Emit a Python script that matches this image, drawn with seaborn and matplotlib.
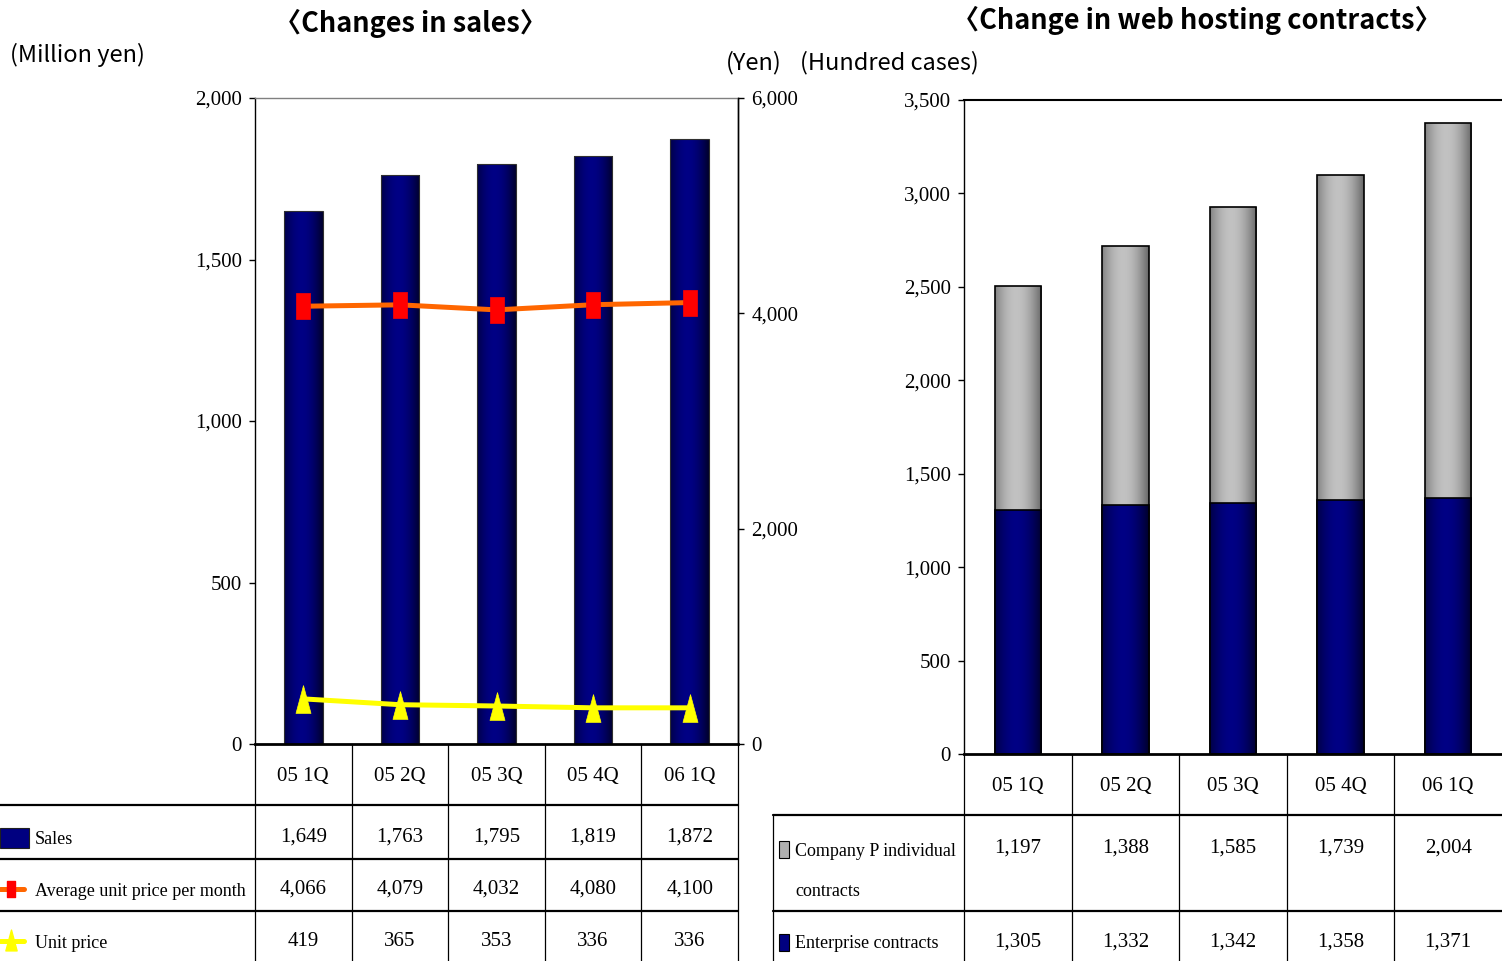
import numpy as np
import pandas as pd
import matplotlib
matplotlib.use("Agg")
import matplotlib.pyplot as plt
import seaborn as sns
from matplotlib.lines import Line2D
from matplotlib.patches import Rectangle
from matplotlib.path import Path
from matplotlib import transforms
from matplotlib.ticker import FuncFormatter

# ---------------- data ----------------
quarters = ["05 1Q", "05 2Q", "05 3Q", "05 4Q", "06 1Q"]
sales = [1649, 1763, 1795, 1819, 1872]
avg_unit_price = [4066, 4079, 4032, 4080, 4100]
unit_price = [419, 365, 353, 336, 336]
individual_contracts = [1197, 1388, 1585, 1739, 2004]
enterprise_contracts = [1305, 1332, 1342, 1358, 1371]

sales_ticks = [0, 500, 1000, 1500, 2000]
yen_ticks = [0, 2000, 4000, 6000]
cases_ticks = [0, 500, 1000, 1500, 2000, 2500, 3000, 3500]

sales_title = "〈Changes in sales〉"
hosting_title = "〈Change in web hosting contracts〉"
unit_sales = "(Million yen)"
unit_yen = "(Yen)"
unit_cases = "(Hundred cases)"
left_rows = ["Sales", "Average unit price per month", "Unit price"]
right_rows = ["Company P individual", "contracts", "Enterprise contracts"]

# ---------------- style ----------------
sns.set_theme(style="white")
plt.rcParams["font.family"] = ["Liberation Serif", "DejaVu Serif"]
for k in ["text.color", "xtick.color", "ytick.color", "axes.labelcolor"]:
    plt.rcParams[k] = "black"
CJK = ["Noto Sans CJK JP", "DejaVu Sans"]

NAVY = "#000080"
GRAY = "#a0a0a0"
ORANGE = "#FF6600"
RED = "#FF0000"
YELLOW = "#FFFF00"
NUM_FS = 15
LAB_FS = 13

W, H = 1502, 961
fig = plt.figure(figsize=(W / 100, H / 100), dpi=100)


def fy(py):
    return 1 - py / H


def rect(x0, y0, x1, y1):
    return [x0 / W, 1 - y1 / H, (x1 - x0) / W, (y1 - y0) / H]


comma = FuncFormatter(lambda v, p: f"{int(round(v)):,}")

rect_marker = Path([(-0.29, -0.5), (0.29, -0.5), (0.29, 0.5), (-0.29, 0.5), (-0.29, -0.5)],
                   [Path.MOVETO, Path.LINETO, Path.LINETO, Path.LINETO, Path.CLOSEPOLY])
tri_marker = Path([(0, 0.5), (0.27, -0.5), (-0.27, -0.5), (0, 0.5)],
                  [Path.MOVETO, Path.LINETO, Path.LINETO, Path.CLOSEPOLY])


def shade(ax, patches, edge, peak, z):
    t = np.linspace(0, 1, 120)
    f = np.clip(np.cos((t - 0.45) / 0.58 * np.pi / 2), 0, 1) ** 0.9
    edge = np.array(edge)
    peak = np.array(peak)
    img = (edge + (peak - edge) * f[:, None])[None, :, :]
    for p in patches:
        x0, y0, w, h = p.get_x(), p.get_y(), p.get_width(), p.get_height()
        im = ax.imshow(img, extent=(x0, x0 + w, y0, y0 + h), aspect="auto",
                       interpolation="bilinear", zorder=z)
        im.set_clip_path(p)
        p.set_facecolor("none")
        p.set_zorder(z + 0.05)


# ---------------- left chart ----------------
ax1 = fig.add_axes(rect(255, 98, 738, 744))
df_sales = pd.DataFrame({"quarter": quarters, "sales": sales})
sns.barplot(data=df_sales, x="quarter", y="sales", ax=ax1, color=NAVY, width=0.4,
            saturation=1, edgecolor="#303030", linewidth=0.8)
shade(ax1, list(ax1.patches), (0.0, 0.0, 0.13), (0.0, 0.0, 0.52), 1.1)
ax1.set_xlim(-0.5, 4.5)
ax1.set_ylim(0, 2000)
ax1.set_yticks(sales_ticks)
ax1.yaxis.set_major_formatter(comma)
ax1.tick_params(axis="x", length=0, labelbottom=False)
ax1.tick_params(axis="y", direction="out", length=4, width=1, color="black", pad=5.5,
                labelsize=NUM_FS, left=True)
ax1.set_xlabel("")
ax1.set_ylabel("")
ax1.spines["left"].set(color="black", linewidth=1)
ax1.spines["right"].set(color="black", linewidth=1)
ax1.spines["top"].set(color="#808080", linewidth=1)
ax1.spines["bottom"].set(color="black", linewidth=2)

ax2 = ax1.twinx()
df_lines = pd.DataFrame({"quarter": quarters, "avg": avg_unit_price, "unit": unit_price})
sns.pointplot(data=df_lines, x="quarter", y="avg", ax=ax2, color=ORANGE, errorbar=None,
              marker=rect_marker, markersize=18.5, markerfacecolor=RED, markeredgecolor=RED,
              markeredgewidth=0.5, linewidth=3.6)
sns.pointplot(data=df_lines, x="quarter", y="unit", ax=ax2, color=YELLOW, errorbar=None,
              marker=tri_marker, markersize=20, markerfacecolor=YELLOW, markeredgecolor=YELLOW,
              markeredgewidth=0.5, linewidth=3.6)
ax2.set_xlim(-0.5, 4.5)
ax2.set_ylim(0, 6000)
ax2.set_yticks(yen_ticks)
ax2.yaxis.set_major_formatter(comma)
ax2.tick_params(axis="y", direction="out", length=4, width=1, color="black", pad=5.5,
                labelsize=NUM_FS, right=True)
ax2.set_xlabel("")
ax2.set_ylabel("")
for s in ["left", "top", "bottom"]:
    ax2.spines[s].set_visible(False)
ax2.spines["right"].set(color="black", linewidth=1)
ax1.set_xlim(-0.5, 4.5)

# ---------------- right chart ----------------
ax3 = fig.add_axes(rect(964, 100, 1502, 754))
df_host = pd.DataFrame({"quarter": quarters,
                        "total": np.add(enterprise_contracts, individual_contracts),
                        "enterprise": enterprise_contracts})
sns.barplot(data=df_host, x="quarter", y="total", ax=ax3, color=GRAY, width=0.43,
            saturation=1, edgecolor="black", linewidth=1.2)
n_gray = len(ax3.patches)
sns.barplot(data=df_host, x="quarter", y="enterprise", ax=ax3, color=NAVY, width=0.43,
            saturation=1, edgecolor="black", linewidth=1.2)
patches = list(ax3.patches)
shade(ax3, patches[:n_gray], (0.36, 0.36, 0.36), (0.76, 0.76, 0.76), 1.1)
shade(ax3, patches[n_gray:], (0.0, 0.0, 0.13), (0.0, 0.0, 0.52), 1.3)
ax3.set_xlim(-0.5, 4.5)
ax3.set_ylim(0, 3500)
ax3.set_yticks(cases_ticks)
ax3.yaxis.set_major_formatter(comma)
ax3.tick_params(axis="x", length=0, labelbottom=False)
ax3.tick_params(axis="y", direction="out", length=4, width=1, color="black", pad=5.5,
                labelsize=NUM_FS, left=True)
ax3.set_xlabel("")
ax3.set_ylabel("")
ax3.spines["left"].set(color="black", linewidth=1)
ax3.spines["top"].set(color="black", linewidth=1.5)
ax3.spines["bottom"].set(color="black", linewidth=2)
ax3.spines["right"].set_visible(False)

# ---------------- titles & units ----------------
fig.text(410 / W, fy(23), sales_title, ha="center", va="center", fontsize=19.5,
         fontweight="bold", family=CJK)
fig.text(1197 / W, fy(20), hosting_title, ha="center", va="center", fontsize=19.5,
         fontweight="bold", family=CJK)
fig.text(10 / W, fy(55), unit_sales, ha="left", va="center", fontsize=17, family=CJK)
fig.text(726 / W, fy(63), unit_yen, ha="left", va="center", fontsize=17, family=CJK)
fig.text(800 / W, fy(63), unit_cases, ha="left", va="center", fontsize=17, family=CJK)


# ---------------- tables ----------------
def hline(x0, x1, py, lw=1.6):
    fig.add_artist(Line2D([x0 / W, x1 / W], [fy(py), fy(py)], transform=fig.transFigure,
                          color="black", linewidth=lw))


def vline_px(px, y0, y1, lw=0.9):
    fig.add_artist(Line2D([px / W, px / W], [fy(y0), fy(y1)], transform=fig.transFigure,
                          color="black", linewidth=lw))


# left table
t1 = transforms.blended_transform_factory(ax1.transData, fig.transFigure)
for b in np.arange(-0.5, len(quarters), 1.0):
    fig.add_artist(Line2D([b, b], [fy(744), fy(961)], transform=t1, color="black", linewidth=0.9))
hline(0, 738, 805)
hline(0, 738, 859)
hline(0, 738, 911)
row_y = [837, 889, 941]
for i, q in enumerate(quarters):
    ax1.text(i, fy(776), q, transform=t1, ha="center", va="center", fontsize=NUM_FS)
    for vals, yy in zip([sales, avg_unit_price, unit_price], row_y):
        ax1.text(i, fy(yy), f"{vals[i]:,}", transform=t1, ha="center", va="center",
                 fontsize=NUM_FS)
for lab, yy in zip(left_rows, row_y):
    fig.text(35 / W, fy(yy + 2), lab, ha="left", va="center", fontsize=LAB_FS)
# legend keys
fig.add_artist(Rectangle((0, fy(848)), 29 / W, 20 / H, transform=fig.transFigure,
                         facecolor=NAVY, edgecolor="#202020", linewidth=0.8))
fig.add_artist(Line2D([0, 24 / W], [fy(889), fy(889)], transform=fig.transFigure,
                      color=ORANGE, linewidth=3.6))
fig.add_artist(Line2D([11 / W], [fy(889)], transform=fig.transFigure, marker=rect_marker,
                      markersize=11, markerfacecolor=RED, markeredgecolor=RED, linestyle=""))
fig.add_artist(Line2D([0, 24 / W], [fy(941), fy(941)], transform=fig.transFigure,
                      color=YELLOW, linewidth=3.6))
fig.add_artist(Line2D([11 / W], [fy(940)], transform=fig.transFigure, marker=tri_marker,
                      markersize=15, markerfacecolor=YELLOW, markeredgecolor=YELLOW, linestyle=""))

# right table
t3 = transforms.blended_transform_factory(ax3.transData, fig.transFigure)
for b in np.arange(-0.5, len(quarters) - 1, 1.0):
    fig.add_artist(Line2D([b, b], [fy(754), fy(961)], transform=t3, color="black", linewidth=0.9))
vline_px(773, 815, 961)
hline(773, 1502, 815)
hline(773, 1502, 911)
for i, q in enumerate(quarters):
    ax3.text(i, fy(786), q, transform=t3, ha="center", va="center", fontsize=NUM_FS)
    ax3.text(i, fy(848), f"{individual_contracts[i]:,}", transform=t3, ha="center",
             va="center", fontsize=NUM_FS)
    ax3.text(i, fy(942), f"{enterprise_contracts[i]:,}", transform=t3, ha="center",
             va="center", fontsize=NUM_FS)
fig.text(795 / W, fy(851), right_rows[0], ha="left", va="center", fontsize=LAB_FS)
fig.text(795 / W, fy(892), right_rows[1], ha="left", va="center", fontsize=LAB_FS)
fig.text(795 / W, fy(944), right_rows[2], ha="left", va="center", fontsize=LAB_FS)
fig.add_artist(Rectangle((779 / W, fy(858)), 10 / W, 17 / H, transform=fig.transFigure,
                         facecolor="#b0b0b0", edgecolor="black", linewidth=0.8))
fig.add_artist(Rectangle((779 / W, fy(951)), 10 / W, 17 / H, transform=fig.transFigure,
                         facecolor=NAVY, edgecolor="black", linewidth=0.8))

fig.savefig("out.png", dpi=100)
